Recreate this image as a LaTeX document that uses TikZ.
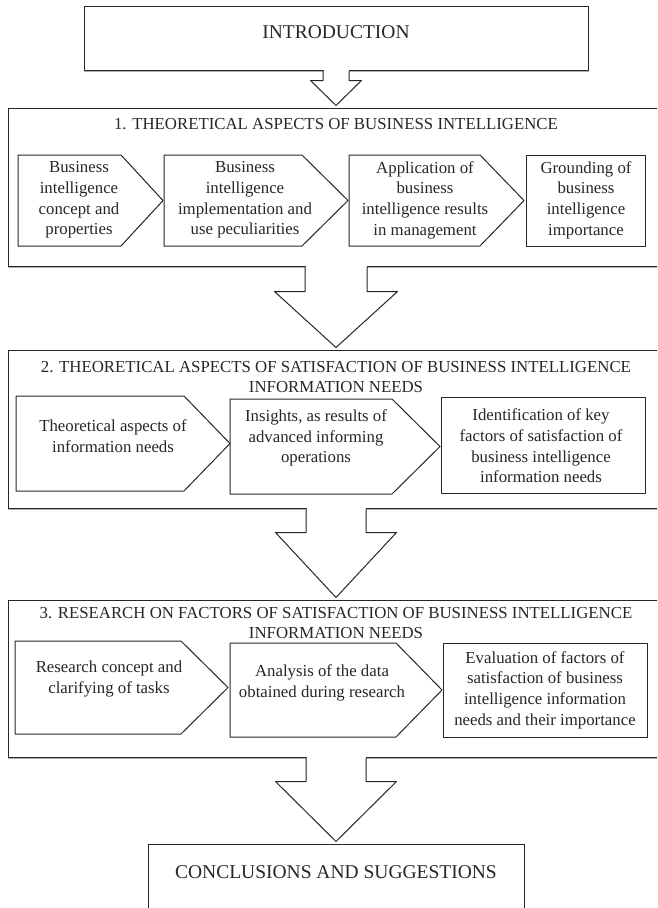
\documentclass[tikz,border=0pt]{standalone}
\usepackage{fontspec}
\setmainfont{Liberation Serif}
\usetikzlibrary{calc}

\newcommand{\blockarrow}[5]{%
	\filldraw[fill=white, line width=1pt, draw=black!85] ($(#1.south)+(-#3,0)$) -- ($(#1.south)+(-#3,#5)$) -- ($(#1.south)+(-#4,#5)$) -- ($(#2.north)+(0,-2)$) -- ($(#1.south)+(#4,#5)$) -- ($(#1.south)+(#3,#5)$) -- ($(#1.south)+(#3,0)$);
	\fill[white] ($(#1.south)+(-#3+0.5,-0.8)$) rectangle ($(#1.south)+(#3-0.5,0.5)$);
}

\begin{document}
\begin{tikzpicture}[line cap=round,line join=round,x=1pt,y=-1pt,
		box/.style={draw=black!85, line width=1pt, inner sep=0pt},
		shadowline/.style={draw=black!30, line width=1.2pt},
		txt/.style={align=center, inner sep=0pt, text=black!85, font=\fontsize{16.8}{20.7}\selectfont},
		headtxt/.style={inner sep=0pt, text=black!85, font=\fontsize{19.5}{22}\selectfont}]
		\useasboundingbox (0,0) rectangle (657,908);
		\clip (0,0) rectangle (657,908);
		\node[box, minimum width=504pt, minimum height=64pt] (intro) at (336,38) {};
		\node[headtxt] (introtxt) at (336,32) {INTRODUCTION};
		\node[box, minimum width=656pt, minimum height=158pt] (sec1) at (336,187) {};
		\node[box, minimum width=656pt, minimum height=158pt] (sec2) at (336,429) {};
		\node[box, minimum width=656pt, minimum height=157pt] (sec3) at (336,678.5) {};
		\node[box, minimum width=376pt, minimum height=106pt] (concl) at (336,897) {};
		\node[headtxt] (concltxt) at (336,872) {CONCLUSIONS AND SUGGESTIONS};
		\foreach \b in {intro,sec1,sec2,sec3}
			\draw[shadowline] ($(\b.south west)+(1,1.3)$) -- ($(\b.south east)+(0,1.3)$);
		\blockarrow{intro}{sec1}{13}{25.5}{10}
		\blockarrow{sec1}{sec2}{31}{61.5}{25}
		\blockarrow{sec2}{sec3}{30}{60.5}{24}
		\blockarrow{sec3}{concl}{30}{60.5}{24}
		\begin{scope}[line width=1pt, draw=black!85]
			\draw (18,155) -- (121,155) -- (163,200.5) -- (121,246) -- (18,246) -- cycle;
			\draw (164,155) -- (302,155) -- (348,200.5) -- (302,246) -- (164,246) -- cycle;
			\draw (349,155) -- (480,155) -- (524,200.5) -- (480,246) -- (349,246) -- cycle;
			\draw (526,155) rectangle (645,246);
			\draw (16,396) -- (184,396) -- (230,443.5) -- (184,491) -- (16,491) -- cycle;
			\draw (230,399) -- (392,399) -- (440,446.5) -- (392,494) -- (230,494) -- cycle;
			\draw (441,397) rectangle (645,493);
			\draw (15,641) -- (181,641) -- (228,687.5) -- (181,734) -- (15,734) -- cycle;
			\draw (230,643) -- (396,643) -- (442,690) -- (396,737) -- (230,737) -- cycle;
			\draw (443,643) rectangle (647,737);
		\end{scope}
		\node[txt] (sec1t) at (336,124) {1. THEORETICAL ASPECTS OF BUSINESS INTELLIGENCE};
		\node[txt] (b11) at (79,200) {Business\\intelligence\\concept and\\properties};
		\node[txt] (b12) at (245,200) {Business\\intelligence\\implementation and\\use peculiarities};
		\node[txt] (b13) at (425,200) {Application of\\business\\intelligence results\\in management};
		\node[txt] (b14) at (586,200) {Grounding of\\business\\intelligence\\importance};
		\node[txt] (sec2t) at (336,377) {2. THEORETICAL ASPECTS OF SATISFACTION OF BUSINESS INTELLIGENCE\\INFORMATION NEEDS};
		\node[txt] (b21) at (113,436) {Theoretical aspects of\\information needs};
		\node[txt] (b22) at (316,438) {Insights, as results of\\advanced informing\\operations};
		\node[txt] (b23) at (541,446) {Identification of key\\factors of satisfaction of\\business intelligence\\information needs};
		\node[txt] (sec3t) at (336,623) {3. RESEARCH ON FACTORS OF SATISFACTION OF BUSINESS INTELLIGENCE\\INFORMATION NEEDS};
		\node[txt] (b31) at (109,679) {Research concept and\\clarifying of tasks};
		\node[txt] (b32) at (322,683) {Analysis of the data\\obtained during research};
		\node[txt] (b33) at (545,690) {Evaluation of factors of\\satisfaction of business\\intelligence information\\needs and their importance};
	\end{tikzpicture}
\end{document}
